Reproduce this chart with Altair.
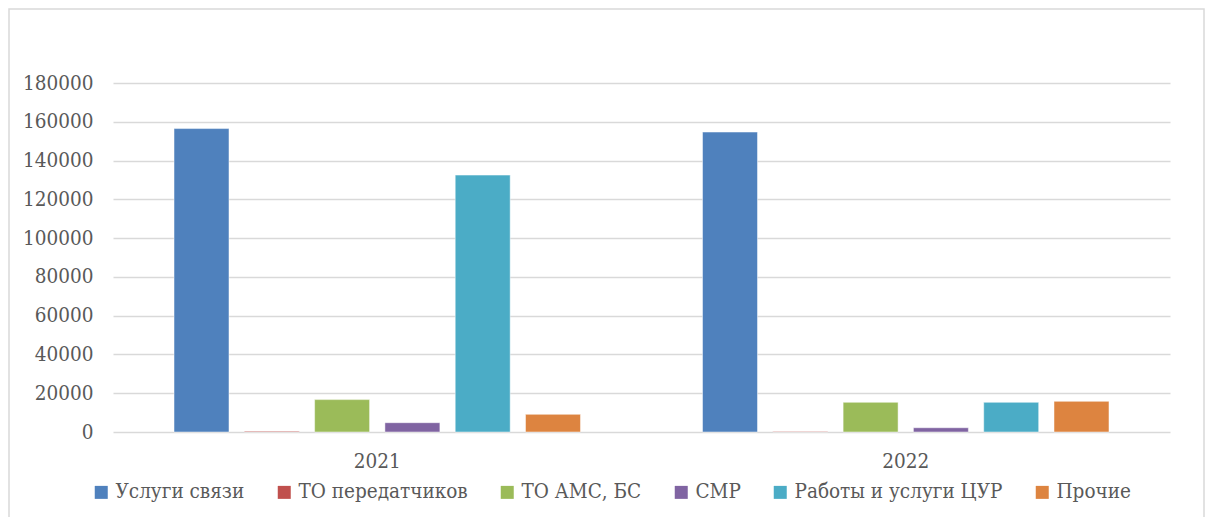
import altair as alt
import pandas as pd

years = ["2021", "2022"]
categories = ["Услуги связи", "ТО передатчиков", "ТО АМС, БС", "СМР", "Работы и услуги ЦУР", "Прочие"]
values_2021 = [156500, 400, 16700, 4800, 132500, 9100]
values_2022 = [154700, 300, 15300, 2200, 15300, 15800]
colors = ["#4F81BD", "#C0504D", "#9BBB59", "#8064A2", "#4BACC6", "#DD8440"]
y_ticks = [0, 20000, 40000, 60000, 80000, 100000, 120000, 140000, 160000, 180000]

rows = []
for yr, vals in zip(years, [values_2021, values_2022]):
    for c, v in zip(categories, vals):
        rows.append({"year": yr, "category": c, "value": v})
df = pd.DataFrame(rows)

FONT = "DejaVu Serif Condensed"
TXT = "#595959"
GRID = "#d9d9d9"

bars = alt.Chart(df).mark_bar(stroke="white", strokeWidth=0.8, strokeOpacity=0.6).encode(
    x=alt.X("year:N", sort=years, title=None,
            scale=alt.Scale(paddingInner=0, paddingOuter=0),
            axis=alt.Axis(labelAngle=0, labelFont=FONT, labelFontSize=20.5, labelColor=TXT,
                          ticks=False, domain=False, labelPadding=19)),
    xOffset=alt.XOffset("category:N", sort=categories,
                        scale=alt.Scale(paddingInner=0.218, paddingOuter=0.868)),
    y=alt.Y("value:Q", title=None,
            scale=alt.Scale(domain=[0, 180000], nice=False),
            axis=alt.Axis(values=y_ticks, format="d", labelFont=FONT, labelFontSize=20.5,
                          labelColor=TXT, ticks=False, domain=False, labelPadding=20,
                          gridColor=GRID, gridWidth=1.5)),
    color=alt.Color("category:N", sort=categories,
                    scale=alt.Scale(domain=categories, range=colors),
                    legend=alt.Legend(title=None, orient="none", direction="horizontal",
                                      legendX=-22, legendY=399, symbolType="square",
                                      symbolSize=169, symbolStrokeWidth=0,
                                      labelFont=FONT, labelFontSize=20.5, labelColor=TXT,
                                      labelOffset=4, columnPadding=29, padding=0,
                                      labelLimit=0, symbolOpacity=1)),
)

border = alt.Chart(alt.Data(values=[{}])).mark_rect(
    fill=None, stroke=GRID, strokeWidth=1.5
).encode(
    x=alt.value(-104), x2=alt.value(1091),
    y=alt.value(-74), y2=alt.value(500),
)

chart = alt.layer(border, bars).properties(
    width=1057, height=349,
    autosize=alt.AutoSizeParams(type="none"),
    padding={"left": 105, "top": 75, "right": 36, "bottom": 85},
).configure_view(stroke=None)

chart.save("out.html", embed_options={"renderer": "svg", "actions": False})
